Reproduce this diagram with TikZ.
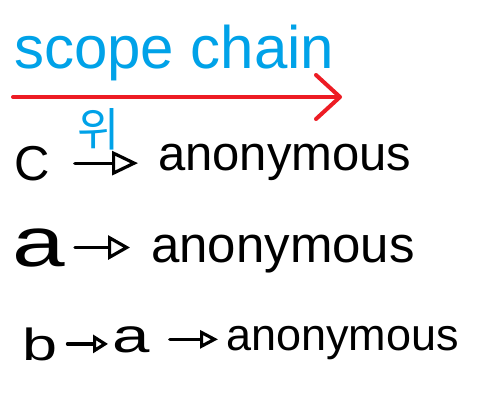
\documentclass[tikz,border=0pt]{standalone}
\usepackage{fontspec}
\setmainfont{Liberation Sans}
\newfontfamily\kofont{Noto Sans CJK KR}
\usetikzlibrary{arrows.meta}
\definecolor{kettenblau}{RGB}{0,162,232}
\definecolor{kettenrot}{RGB}{237,28,36}

\begin{document}
\begin{tikzpicture}[x=1pt, y=-1pt,
    schrift/.style={inner sep=0pt, anchor=base west},
    pfeil/.style 2 args={line width=3.2pt, line cap=round,
        -{Triangle[open, length=#1, width=#2, line width=3.2pt]}}]

    % Rahmen
    \fill[white] (0,0) rectangle (492,416);
    \useasboundingbox (0,0) rectangle (492,416);

    % Ueberschrift
    \node[schrift, text=kettenblau, font=\fontsize{60}{62}\selectfont]
        (titel) at (14,68) {scope chain};

    % roter Pfeil
    \coordinate (kstart) at (13,97);
    \coordinate (kende) at (342,97);
    \draw[kettenrot, line width=4pt, line cap=round,
        -{Straight Barb[length=24pt, width=44pt, line width=4pt, round]}]
        (kstart) -- (kende);

    % Markierung
    \node[text=kettenblau, inner sep=0pt, font=\kofont\fontsize{46}{48}\selectfont]
        (wi) at (99,129) {위};

    % Zeile 1: C
    \node[schrift, font=\fontsize{49}{50}\selectfont] (c1) at (14,180) {C};
    \node[schrift, font=\fontsize{49}{50}\selectfont] (anon1) at (158,170) {anonymous};
    \draw[pfeil={26pt}{24pt}, shorten <=25pt, shorten >=20pt]
        (c1.east) -- (c1.east -| anon1.west);

    % Zeile 2: a
    \node[schrift, font=\fontsize{70}{72}\selectfont] (a2) at (12,266) {\scalebox{1.35}[1]{a}};
    \node[schrift, font=\fontsize{51}{52}\selectfont] (anon2) at (151,262) {anonymous};
    \draw[pfeil={22pt}{24pt}, shorten <=10pt, shorten >=21pt]
        (a2.east) -- (a2.east -| anon2.west);

    % Zeile 3: b -> a -> anonymous
    \node[schrift, font=\fontsize{45}{47}\selectfont] (b3) at (22,360) {\scalebox{1.4}[1]{b}};
    \node[schrift, font=\fontsize{48}{50}\selectfont] (a3) at (112,352) {\scalebox{1.4}[1]{a}};
    \node[schrift, font=\fontsize{45}{46}\selectfont] (anon3) at (226,350) {anonymous};
    \draw[pfeil={15pt}{18pt}, shorten <=10pt, shorten >=4pt]
        (b3.east) -- (b3.east -| a3.west);
    \draw[pfeil={18pt}{18pt}, shorten <=20pt, shorten >=8pt]
        (a3.east) -- (a3.east -| anon3.west);

\end{tikzpicture}
\end{document}
